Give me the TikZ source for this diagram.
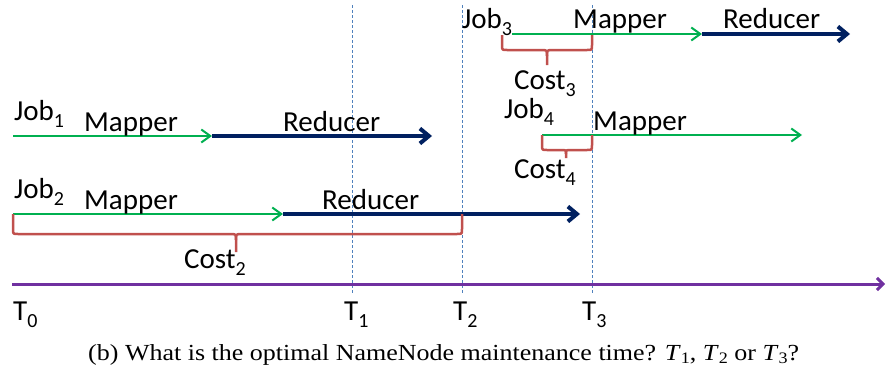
\documentclass[tikz,border=0pt]{standalone}
\usepackage{fontspec}
\setmainfont{Carlito}
\newfontfamily\captionserif{Liberation Serif}
\usetikzlibrary{arrows.meta}

\definecolor{mapgreen}{HTML}{00B050}
\definecolor{rednavy}{HTML}{002060}
\definecolor{axispurple}{HTML}{7030A0}
\definecolor{markblue}{HTML}{4F81BD}
\definecolor{bracered}{HTML}{C0504D}

% label with a lowered index
\newcommand\idx[2]{#1\raisebox{-7pt}{\fontsize{20}{20}\selectfont #2}}
% italic T with an upright lowered index (caption)
\newcommand\capT[1]{\textit{T}\raisebox{-3pt}{\fontsize{16}{16}\selectfont #1}}

\begin{document}
\begin{tikzpicture}[x=1pt,y=-1pt,
  lbl/.style={inner sep=0pt, anchor=base west, font=\fontsize{29}{29}\selectfont},
  mapline/.style={draw=mapgreen, line width=2pt, -{Straight Barb[length=9pt,width=13pt]}},
  redline/.style={draw=rednavy, line width=4pt, -{Straight Barb[length=9pt,width=15pt]}},
  timeline/.style={draw=axispurple, line width=3pt, -{Straight Barb[length=6pt,width=12pt]}},
  marker/.style={draw=markblue, line width=0.8pt, dash pattern=on 3pt off 2pt},
  bracket/.style={draw=bracered, line width=2.5pt, line join=round}]
\useasboundingbox (0,0) rectangle (886,372);

% maintenance time markers
\coordinate (m1t) at (352,5);   \coordinate (m1b) at (352,293);
\coordinate (m2t) at (462,5);   \coordinate (m2b) at (462,293);
\coordinate (m3t) at (592,5);   \coordinate (m3b) at (592,293);
\draw[marker] (m1t) -- (m1b);
\draw[marker] (m2t) -- (m2b);
\draw[marker] (m3t) -- (m3b);

% time axis
\coordinate (ax0) at (12,284);
\coordinate (ax1) at (885,284);
\draw[timeline] (ax0) -- (ax1);

% Job 1
\coordinate (j1a) at (13,136);
\coordinate (j1b) at (212,136);
\coordinate (j1c) at (432,136);
\draw[redline] (j1b) -- (j1c);
\draw[mapline] (j1a) -- (j1b);
\node[lbl] (job1) at (14,120) {\idx{Job}{1}};
\node[lbl] (map1) at (84,131) {Mapper};
\node[lbl] (red1) at (283,131) {Reducer};

% Job 2
\coordinate (j2a) at (13,214);
\coordinate (j2b) at (283,214);
\coordinate (j2c) at (580,214);
\draw[redline] (j2b) -- (j2c);
\draw[mapline] (j2a) -- (j2b);
\node[lbl] (job2) at (14,198) {\idx{Job}{2}};
\node[lbl] (map2) at (84,209) {Mapper};
\node[lbl] (red2) at (322,209) {Reducer};

% Job 3
\coordinate (j3a) at (512,34);
\coordinate (j3b) at (702,34);
\coordinate (j3c) at (850,34);
\draw[redline] (j3b) -- (j3c);
\draw[mapline] (j3a) -- (j3b);
\node[lbl] (job3) at (462,28) {\idx{Job}{3}};
\node[lbl] (map3) at (573,28) {Mapper};
\node[lbl] (red3) at (723,28) {Reducer};

% Job 4
\coordinate (j4a) at (542,135);
\coordinate (j4b) at (802,135);
\draw[mapline] (j4a) -- (j4b);
\node[lbl] (job4) at (504,118) {\idx{Job}{4}};
\node[lbl] (map4) at (593,130) {Mapper};

% cost brackets
\draw[bracket] (13,214) -- (13,229) .. controls (13,234) .. (18,234) -- (230,234)
  .. controls (236,234) .. (236,240) -- (236,252);
\draw[bracket] (462,214) -- (462,229) .. controls (462,234) .. (457,234) -- (242,234)
  .. controls (236,234) .. (236,240);
\node[lbl] (cost2) at (184,268) {\idx{Cost}{2}};

\draw[bracket] (502,35) -- (502,45) .. controls (502,50) .. (507,50) -- (541,50)
  .. controls (547,50) .. (547,56) -- (547,65);
\draw[bracket] (592,35) -- (592,45) .. controls (592,50) .. (587,50) -- (553,50)
  .. controls (547,50) .. (547,56);
\node[lbl] (cost3) at (514,89) {\idx{Cost}{3}};

\draw[bracket] (542,135) -- (542,145) .. controls (542,150) .. (547,150) -- (561,150)
  .. controls (566,150) .. (566,154) -- (566,158);
\draw[bracket] (592,135) -- (592,145) .. controls (592,150) .. (587,150) -- (571,150)
  .. controls (566,150) .. (566,154);
\node[lbl] (cost4) at (514,178) {\idx{Cost}{4}};

% axis labels
\node[lbl] (t0) at (13,320) {\idx{T}{0}};
\node[lbl] (t1) at (344,320) {\idx{T}{1}};
\node[lbl] (t2) at (453,320) {\idx{T}{2}};
\node[lbl] (t3) at (582,320) {\idx{T}{3}};

% caption
\node[inner sep=0pt, anchor=base west, font=\captionserif\fontsize{23}{23}\selectfont] (cap) at (88,360)
  {\scalebox{1.13}[1]{(b) What is the optimal NameNode maintenance time? \capT{1}, \capT{2} or \capT{3}?}};
\end{tikzpicture}
\end{document}
